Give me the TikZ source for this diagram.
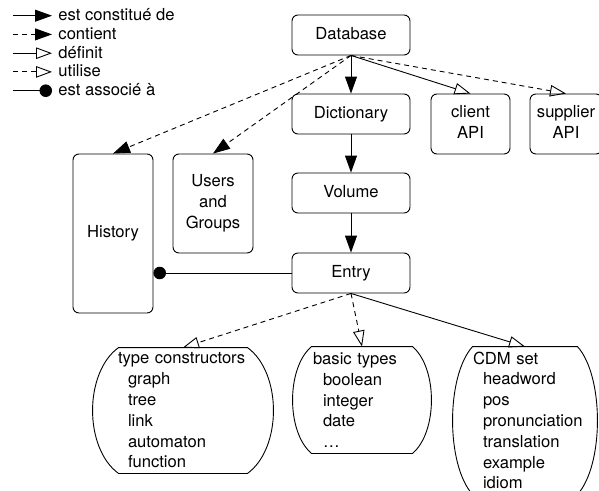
\documentclass[tikz,border=0pt]{standalone}
\usepackage{fontspec}
\setmainfont{TeX Gyre Heros}
\usetikzlibrary{arrows.meta,calc}

\tikzset{
  dbbox/.style={draw, rounded corners=6pt, fill=white, align=center, minimum width=118pt, minimum height=40pt, text depth=4pt, inner sep=2pt},
  bulge/.style={align=left, inner ysep=0pt, font=\fontsize{16.6}{20.8}\selectfont},
  consist/.style={-{Triangle[length=17pt,width=12pt]}},
  contain/.style={consist, dash pattern=on 5pt off 4pt},
  define/.style={-{Triangle[open,length=16pt,width=11.5pt]}},
  uses/.style={define, dash pattern=on 5pt off 4pt},
  assoc/.style={-{Circle[length=12.5pt]}},
  legtext/.style={anchor=west, inner xsep=6pt, text height=11.5pt, text depth=1.5pt}
}

% outline with bulging sides round a node
\newcommand{\bulgeline}[2]{%
  \draw ($(#1.north west)+(#2,0)$) -- ($(#1.north east)+(-#2,0)$)
    .. controls ($(#1.north east)!0.2!(#1.south east)+(#2/3,0)$) and ($(#1.north east)!0.8!(#1.south east)+(#2/3,0)$) .. ($(#1.south east)+(-#2,0)$)
    -- ($(#1.south west)+(#2,0)$)
    .. controls ($(#1.south west)!0.2!(#1.north west)+(-#2/3,0)$) and ($(#1.south west)!0.8!(#1.north west)+(-#2/3,0)$) .. cycle;}

\begin{document}
\begin{tikzpicture}[x=1pt,y=-1pt,line width=0.9pt,font=\fontsize{16.6}{20.7}\selectfont]
\useasboundingbox (0,0) rectangle (599,490);
\clip (0,0) rectangle (599,490);

% legend
\coordinate (k1) at (13,15.7);
\coordinate (k2) at (13,34.4);
\coordinate (k3) at (13,53.2);
\coordinate (k4) at (13,71.9);
\coordinate (k5) at (13,90.7);
\node[legtext] (l1) at (52,15.7) {est constitué de};
\node[legtext] (l2) at (52,34.4) {contient};
\node[legtext] (l3) at (52,53.2) {définit};
\node[legtext] (l4) at (52,71.9) {utilise};
\node[legtext] (l5) at (52,90.7) {est associé à};
\draw[consist] (k1) -- (l1.west);
\draw[contain] (k2) -- (l2.west);
\draw[define] (k3) -- (l3.west);
\draw[uses] (k4) -- (l4.west);
\draw[assoc] (k5) -- (l5.west);

% boxes
\node[dbbox] (db) at (351,35) {Database};
\node[dbbox] (dict) at (351,114) {Dictionary};
\node[dbbox] (vol) at (351,193) {Volume};
\node[dbbox] (entry) at (351,273) {Entry};
\node[dbbox, minimum width=79pt, minimum height=60pt] (cli) at (470.5,124) {client\\API};
\node[dbbox, minimum width=72pt, minimum height=60pt] (sup) at (566,124) {supplier\\API};
\node[dbbox, minimum width=80pt, minimum height=159pt] (hist) at (113,233.5) {History};
\node[dbbox, minimum width=80pt, minimum height=99pt] (users) at (213,203.5) {Users\\and\\Groups};

% type sets
\node[bulge, inner xsep=25pt, text width=130pt, minimum height=125pt] (tc) at (183,410.5)
  {\mbox{type constructors}\\\hspace*{10pt}graph\\\hspace*{10pt}tree\\\hspace*{10pt}link\\\hspace*{10pt}automaton\\\hspace*{10pt}function};
\node[bulge, inner xsep=20pt, text width=98pt, minimum height=106pt] (bt) at (362,400)
  {basic types\\\hspace*{10pt}boolean\\\hspace*{10pt}integer\\\hspace*{10pt}date\\\hspace*{10pt}…};
\node[bulge, inner xsep=20pt, text width=104pt, minimum height=147pt] (cdm) at (525,420.5)
  {CDM set\\\hspace*{10pt}headword\\\hspace*{10pt}pos\\\hspace*{10pt}\mbox{pronunciation}\\\hspace*{10pt}translation\\\hspace*{10pt}example\\\hspace*{10pt}idiom};
\bulgeline{tc}{26}
\bulgeline{bt}{19}
\bulgeline{cdm}{20}

% links
\draw[consist] (db) -- (dict);
\draw[consist] (dict) -- (vol);
\draw[consist] (vol) -- (entry);
\draw[define] (db.south) -- (cli.north);
\draw[uses] (db.south) -- (sup.north);
\draw[contain] (db.south) -- (hist.north);
\draw[contain] (db.south) -- (users.north);
\draw[assoc] (entry.west) -- (entry.west -| hist.east);
\draw[uses] (entry.south) -- (tc.north);
\draw[uses] (entry.south) -- (bt.north);
\draw[define] (entry.south) -- (cdm.north);
\end{tikzpicture}
\end{document}
